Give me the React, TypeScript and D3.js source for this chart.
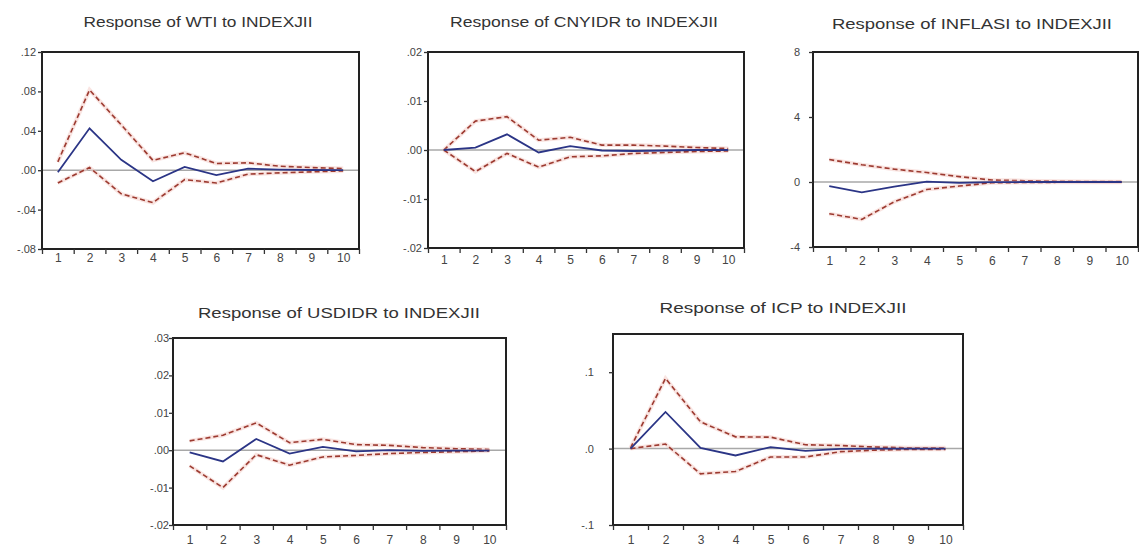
import React, { useRef, useEffect } from 'react';
import * as d3 from 'd3';

const periods = [1, 2, 3, 4, 5, 6, 7, 8, 9, 10];

// Response of WTI
const wtiResp = [-0.002, 0.0425, 0.0105, -0.0112, 0.0034, -0.005, 0.0015, 0.0006, 0.0002, 0.0001];
const wtiUpper = [0.0085, 0.0815, 0.046, 0.010, 0.0177, 0.0068, 0.0075, 0.004, 0.0027, 0.0017];
const wtiLower = [-0.013, 0.0027, -0.024, -0.033, -0.0095, -0.013, -0.004, -0.0027, -0.0017, -0.0007];
const wtiTicks = [-0.08, -0.04, 0, 0.04, 0.08, 0.12];
const wtiTickLabels = ['-.08', '-.04', '.00', '.04', '.08', '.12'];

// Response of CNYIDR
const cnyResp = [0, 0.0005, 0.0032, -0.0005, 0.0008, -0.0001, -0.0002, -0.0001, 0, 0];
const cnyUpper = [0, 0.0059, 0.0068, 0.002, 0.0026, 0.001, 0.001, 0.0008, 0.0005, 0.0003];
const cnyLower = [0, -0.0044, -0.0007, -0.0035, -0.0014, -0.0012, -0.0007, -0.0005, -0.0003, -0.0002];
const cnyTicks = [-0.02, -0.01, 0, 0.01, 0.02];
const cnyTickLabels = ['-.02', '-.01', '.00', '.01', '.02'];

// Response of INFLASI
const infResp = [-0.25, -0.64, -0.29, 0.02, -0.05, -0.01, 0, 0, 0, 0];
const infUpper = [1.38, 1.06, 0.79, 0.58, 0.33, 0.12, 0.08, 0.05, 0.03, 0.02];
const infLower = [-1.95, -2.3, -1.22, -0.46, -0.25, -0.05, -0.03, -0.02, -0.01, -0.01];
const infTicks = [-4, 0, 4, 8];
const infTickLabels = ['-4', '0', '4', '8'];

// Response of USDIDR
const usdResp = [-0.0006, -0.003, 0.003, -0.0009, 0.0009, -0.0003, 0, -0.0002, -0.0001, -0.0001];
const usdUpper = [0.0025, 0.004, 0.0073, 0.002, 0.0029, 0.0015, 0.0013, 0.0007, 0.0004, 0.0002];
const usdLower = [-0.0042, -0.01, -0.0012, -0.004, -0.0018, -0.0014, -0.0009, -0.0006, -0.0004, -0.0002];
const usdTicks = [-0.02, -0.01, 0, 0.01, 0.02, 0.03];
const usdTickLabels = ['-.02', '-.01', '.00', '.01', '.02', '.03'];

// Response of ICP
const icpResp = [0, 0.048, 0.001, -0.009, 0.002, -0.003, -0.0004, 0, 0, 0];
const icpUpper = [0.001, 0.092, 0.035, 0.0154, 0.015, 0.005, 0.004, 0.002, 0.001, 0.001];
const icpLower = [0, 0.006, -0.033, -0.030, -0.011, -0.011, -0.004, -0.002, -0.001, -0.001];
const icpTicks = [-0.1, 0, 0.1];
const icpTickLabels = ['-.1', '.0', '.1'];

const panels = [
  { title: 'Response of WTI to INDEXJII', resp: wtiResp, upper: wtiUpper, lower: wtiLower,
    domain: [-0.08, 0.12], ticks: wtiTicks, tickLabels: wtiTickLabels,
    x: 42, y: 52, w: 317, h: 197, titleX: 198, titleY: 27, titleW: 229, labelGap: 5, xLabelDy: 15 },
  { title: 'Response of CNYIDR to INDEXJII', resp: cnyResp, upper: cnyUpper, lower: cnyLower,
    domain: [-0.02, 0.02], ticks: cnyTicks, tickLabels: cnyTickLabels,
    x: 428, y: 52, w: 316, h: 196, titleX: 584, titleY: 27, titleW: 268, labelGap: 5, xLabelDy: 18 },
  { title: 'Response of INFLASI to INDEXJII', resp: infResp, upper: infUpper, lower: infLower,
    domain: [-4, 8], ticks: infTicks, tickLabels: infTickLabels,
    x: 813, y: 52, w: 325, h: 195, titleX: 972, titleY: 29, titleW: 280, labelGap: 12, xLabelDy: 20 },
  { title: 'Response of USDIDR to INDEXJII', resp: usdResp, upper: usdUpper, lower: usdLower,
    domain: [-0.02, 0.03], ticks: usdTicks, tickLabels: usdTickLabels,
    x: 173, y: 338, w: 333, h: 187, titleX: 339, titleY: 318, titleW: 282, labelGap: 3, xLabelDy: 21 },
  { title: 'Response of ICP to INDEXJII', resp: icpResp, upper: icpUpper, lower: icpLower,
    domain: [-0.1, 0.15], ticks: icpTicks, tickLabels: icpTickLabels,
    x: 613, y: 334, w: 350, h: 191, titleX: 783, titleY: 313, titleW: 247, labelGap: 18, xLabelDy: 21 },
];

const FONT = "'Liberation Sans', Arial, sans-serif";

const App = () => {
  const svgRef = useRef<SVGSVGElement>(null);

  useEffect(() => {
    const svg = d3.select(svgRef.current);
    svg.selectAll('*').remove();

    svg.append('rect').attr('width', 1139).attr('height', 548).attr('fill', '#fff');

    panels.forEach(p => {
      const g = svg.append('g');

      const xScale = d3.scaleLinear().domain([0.5, 10.5]).range([p.x, p.x + p.w]);
      const yScale = d3.scaleLinear().domain(p.domain).range([p.y + p.h, p.y]);

      // frame
      g.append('rect')
        .attr('x', p.x).attr('y', p.y)
        .attr('width', p.w).attr('height', p.h)
        .attr('fill', '#fff')
        .attr('stroke', '#222')
        .attr('stroke-width', 2);

      // title
      g.append('text')
        .attr('x', p.titleX).attr('y', p.titleY)
        .attr('text-anchor', 'middle')
        .attr('font-family', FONT)
        .attr('font-size', 15)
        .attr('fill', '#333')
        .attr('textLength', p.titleW)
        .attr('lengthAdjust', 'spacingAndGlyphs')
        .text(p.title);

      // y axis
      const yAxis = d3.axisLeft(yScale)
        .tickValues(p.ticks)
        .tickFormat((d, i) => p.tickLabels[i])
        .tickSize(4)
        .tickPadding(p.labelGap - 3)
        .tickSizeOuter(0);
      const ya = g.append('g')
        .attr('transform', `translate(${p.x}, 0)`)
        .call(yAxis);
      ya.select('.domain').remove();
      ya.selectAll('line').attr('stroke', '#333').attr('stroke-width', 1.3);
      ya.selectAll('text').attr('font-family', FONT).attr('font-size', 11).attr('fill', '#444');

      // x axis: ticks at band edges, labels at period centres
      const xTicks = d3.axisBottom(xScale)
        .tickValues(d3.range(0.5, 11, 1))
        .tickFormat(() => '')
        .tickSize(5)
        .tickSizeOuter(0);
      const xt = g.append('g')
        .attr('transform', `translate(0, ${p.y + p.h})`)
        .call(xTicks);
      xt.select('.domain').remove();
      xt.selectAll('line').attr('stroke', '#333').attr('stroke-width', 1.3);

      const xLabels = d3.axisBottom(xScale)
        .tickValues(periods)
        .tickFormat(d3.format('d'))
        .tickSize(0)
        .tickPadding(p.xLabelDy - 11);
      const xl = g.append('g')
        .attr('transform', `translate(0, ${p.y + p.h})`)
        .call(xLabels);
      xl.select('.domain').remove();
      xl.selectAll('text').attr('font-family', FONT).attr('font-size', 12).attr('fill', '#444');

      // zero line
      g.append('line')
        .attr('x1', p.x + 1).attr('x2', p.x + p.w - 1)
        .attr('y1', yScale(0)).attr('y2', yScale(0))
        .attr('stroke', '#a8a8a8')
        .attr('stroke-width', 1.5);

      const line = d3.line<number>()
        .x((d, i) => xScale(periods[i]))
        .y(d => yScale(d));

      [p.upper, p.lower].forEach(band => {
        g.append('path')
          .datum(band)
          .attr('d', line)
          .attr('fill', 'none')
          .attr('stroke', '#f3c9c4')
          .attr('stroke-width', 4)
          .attr('opacity', 0.5);
        g.append('path')
          .datum(band)
          .attr('d', line)
          .attr('fill', 'none')
          .attr('stroke', '#9c3a30')
          .attr('stroke-width', 1.6)
          .attr('stroke-dasharray', '5,3');
      });

      g.append('path')
        .datum(p.resp)
        .attr('d', line)
        .attr('fill', 'none')
        .attr('stroke', '#2b3586')
        .attr('stroke-width', 1.8);
    });
  }, []);

  return (
    <svg
      ref={svgRef}
      width={1139}
      height={548}
      style={{ position: 'absolute', left: 0, top: 0, display: 'block' }}
    />
  );
};

export default App;
